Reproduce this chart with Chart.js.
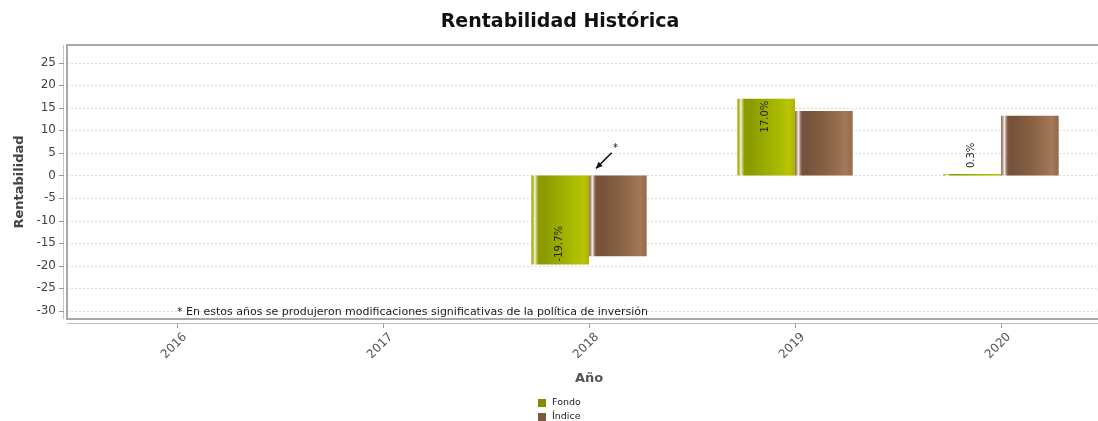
<!DOCTYPE html>
<html>
<head>
<meta charset="utf-8">
<title>Rentabilidad Histórica</title>
<script src="https://cdn.jsdelivr.net/npm/chart.js"></script>
<style>
  html, body { margin: 0; padding: 0; background: #fff; overflow: hidden; }
  canvas { display: block; }
</style>
</head>
<body>
<canvas id="rentChart" width="1120" height="421"></canvas>
<script>
// ---- data ----
const years = ['2016', '2017', '2018', '2019', '2020'];
const fondo = [null, null, -19.7, 17.0, 0.3];
const indice = [null, null, -17.9, 14.3, 13.2];
const yMin = -31.8, yMax = 28.9, yStep = 5;
const nota = '* En estos años se produjeron modificaciones significativas de la política de inversión';
const notaYear = 0, notaValue = -30;
const flagYear = 2; // arrow "*" on 2018

Chart.defaults.font.family = '"DejaVu Sans", sans-serif';

// gradient stops for the "cylinder" look
const fondoStops = [[0, '#98a800'], [0.035, '#b8c440'], [0.06, '#f4f5e0'], [0.09, '#c0c860'],
  [0.12, '#8c9c00'], [0.2, '#8a9a00'], [0.6, '#a2b200'], [0.9, '#b8c400'], [1, '#aab600']];
const indiceStops = [[0, '#8c6a56'], [0.035, '#c0a898'], [0.06, '#f2eae6'], [0.09, '#a88a78'],
  [0.12, '#785440'], [0.2, '#76523a'], [0.6, '#8c6446'], [0.88, '#a47858'], [1, '#946a4a']];

//   <------------ frame, grid, gradients ------------->
const decor = {
  id: 'decor',
  beforeDatasetsDraw(chart) {
    const {ctx, chartArea: a, scales: {x, y}} = chart;
    const left = a.left - 7, right = a.right + 7;
    ctx.save();
    ctx.strokeStyle = '#dedede';
    ctx.lineWidth = 1;
    ctx.setLineDash([2, 2]);
    y.ticks.forEach(t => {
      const py = Math.round(y.getPixelForValue(t.value)) + 0.5;
      ctx.beginPath(); ctx.moveTo(left, py); ctx.lineTo(right, py); ctx.stroke();
    });
    ctx.setLineDash([]);

    // y axis line + tick marks
    ctx.strokeStyle = '#c4c4c4';
    ctx.beginPath(); ctx.moveTo(left - 3.5, a.top); ctx.lineTo(left - 3.5, a.bottom); ctx.stroke();
    ctx.strokeStyle = '#999';
    y.ticks.forEach(t => {
      const py = Math.round(y.getPixelForValue(t.value)) + 0.5;
      ctx.beginPath(); ctx.moveTo(left - 8, py); ctx.lineTo(left - 3, py); ctx.stroke();
    });

    // x axis line + tick marks
    ctx.strokeStyle = '#bdbdbd';
    ctx.beginPath(); ctx.moveTo(left, a.bottom + 4.5); ctx.lineTo(right, a.bottom + 4.5); ctx.stroke();
    ctx.strokeStyle = '#999';
    years.forEach((yr, i) => {
      const px = Math.round(x.getPixelForValue(i)) + 0.5;
      ctx.beginPath(); ctx.moveTo(px, a.bottom + 5); ctx.lineTo(px, a.bottom + 9); ctx.stroke();
    });

    // plot outline
    ctx.strokeStyle = '#a8a8a8';
    ctx.lineWidth = 2;
    ctx.strokeRect(left, a.top, right - left, a.bottom - a.top);
    ctx.restore();

    chart.data.datasets.forEach((ds, di) => {
      chart.getDatasetMeta(di).data.forEach(el => {
        const p = el.getProps(['x', 'width'], true);
        if (!isFinite(p.x) || !p.width) return;
        const g = ctx.createLinearGradient(p.x - p.width / 2, 0, p.x + p.width / 2, 0);
        ds.stops.forEach(s => g.addColorStop(s[0], s[1]));
        el.options = Object.assign({}, el.options, {backgroundColor: g});
      });
    });
  },

  afterDatasetsDraw(chart) {
    const {ctx, scales: {x, y}} = chart;
    ctx.save();
    ctx.font = '10px "DejaVu Sans"';
    ctx.fillStyle = '#222';
    ctx.textBaseline = 'middle';

    // value labels, rotated
    chart.data.datasets.forEach((ds, di) => {
      if (!ds.showValues) return;
      chart.getDatasetMeta(di).data.forEach((el, i) => {
        const v = ds.data[i];
        if (v == null) return;
        const p = el.getProps(['x', 'y', 'base'], true);
        const txt = v.toFixed(1) + '%';
        const w = ctx.measureText(txt).width;
        const h = Math.abs(p.base - p.y);
        ctx.save();
        ctx.translate(p.x - 1, p.y);
        ctx.rotate(-Math.PI / 2);
        if (h > w + 6) {
          ctx.textAlign = v >= 0 ? 'right' : 'left';
          ctx.fillText(txt, v >= 0 ? -2 : 3, 0);
        } else {
          ctx.textAlign = v >= 0 ? 'left' : 'right';
          ctx.fillText(txt, v >= 0 ? 6 : -6, 0);
        }
        ctx.restore();
      });
    });

    // footnote
    ctx.font = '11px "DejaVu Sans"';
    ctx.textAlign = 'left';
    ctx.fillText(nota, x.getPixelForValue(notaYear), y.getPixelForValue(notaValue) + 1);

    // arrow pointer on 2018
    const ax = x.getPixelForValue(flagYear), ay = y.getPixelForValue(0);
    const ang = -Math.PI / 4;
    const tip = [ax + 10 * Math.cos(ang), ay + 10 * Math.sin(ang)];
    const base = [ax + 32 * Math.cos(ang), ay + 32 * Math.sin(ang)];
    ctx.strokeStyle = '#111';
    ctx.fillStyle = '#111';
    ctx.lineWidth = 1.5;
    ctx.beginPath(); ctx.moveTo(base[0], base[1]); ctx.lineTo(tip[0], tip[1]); ctx.stroke();
    const back = ang + Math.PI;
    ctx.beginPath();
    ctx.moveTo(tip[0], tip[1]);
    ctx.lineTo(tip[0] - 7 * Math.cos(back + 0.45), tip[1] - 7 * Math.sin(back + 0.45));
    ctx.lineTo(tip[0] - 7 * Math.cos(back - 0.45), tip[1] - 7 * Math.sin(back - 0.45));
    ctx.closePath();
    ctx.fill();
    ctx.font = '10px "DejaVu Sans"';
    ctx.textAlign = 'center';
    ctx.fillText('*', ax + 36 * Math.cos(ang) + 1, ay + 36 * Math.sin(ang) - 2);
    ctx.restore();
  },

  afterDraw(chart) {
    // vertical legend under the axis title
    const {ctx} = chart;
    const cx = chart.width / 2;
    ctx.save();
    ctx.font = '9.5px "DejaVu Sans"';
    ctx.textBaseline = 'middle';
    ctx.textAlign = 'left';
    chart.data.datasets.forEach((ds, i) => {
      const top = chart.height - 22 + i * 14;
      ctx.fillStyle = ds.legendColor;
      ctx.fillRect(cx - 22, top, 8, 8);
      ctx.fillStyle = '#222';
      ctx.fillText(ds.label, cx - 8, top + 4);
    });
    ctx.restore();
  }
};

const ctx = document.getElementById('rentChart').getContext('2d');

const config = {
  type: 'bar',
  data: {
    labels: years,
    datasets: [{
      label: 'Fondo',
      data: fondo,
      backgroundColor: '#9aab00',
      legendColor: '#7f8d00',
      stops: fondoStops,
      showValues: true,
      categoryPercentage: 0.56,
      barPercentage: 1.0
    }, {
      label: 'Índice',
      data: indice,
      backgroundColor: '#8a6044',
      legendColor: '#7b5a3f',
      stops: indiceStops,
      showValues: false,
      categoryPercentage: 0.56,
      barPercentage: 1.0
    }]
  },
  options: {
    responsive: false,
    animation: false,
    layout: { padding: 0 },
    plugins: {
      legend: { display: false },
      tooltip: { enabled: false },
      title: {
        display: true,
        text: 'Rentabilidad Histórica',
        color: '#111',
        font: { size: 19, weight: 'bold' },
        padding: { top: 11, bottom: 11.2 }
      }
    },
    scales: {
      x: {
        grid: { display: false, drawTicks: false },
        border: { display: false },
        ticks: {
          maxRotation: 45,
          minRotation: 45,
          padding: 11,
          labelOffset: 8,
          color: '#555',
          font: { size: 12 }
        },
        title: {
          display: true,
          text: 'Año',
          color: '#555',
          font: { size: 13, weight: 'bold' },
          padding: { top: 0, bottom: 34.2 }
        },
        afterFit: s => { s.height = 102; }
      },
      y: {
        min: yMin,
        max: yMax,
        grid: { display: false, drawTicks: false },
        border: { display: false },
        ticks: {
          stepSize: yStep,
          includeBounds: false,
          padding: 18,
          color: '#444',
          font: { size: 12 }
        },
        title: {
          display: true,
          text: 'Rentabilidad',
          color: '#444',
          font: { size: 13, weight: 'bold' },
          padding: { top: 12, bottom: 0 }
        },
        afterFit: s => { s.width = 74; }
      },
      yRight: {
        position: 'right',
        grid: { display: false, drawTicks: false },
        border: { display: false },
        ticks: { display: false },
        afterFit: s => { s.width = 16; }
      }
    }
  },
  plugins: [decor]
};

var rentChart = new Chart(ctx, config);
</script>
</body>
</html>
